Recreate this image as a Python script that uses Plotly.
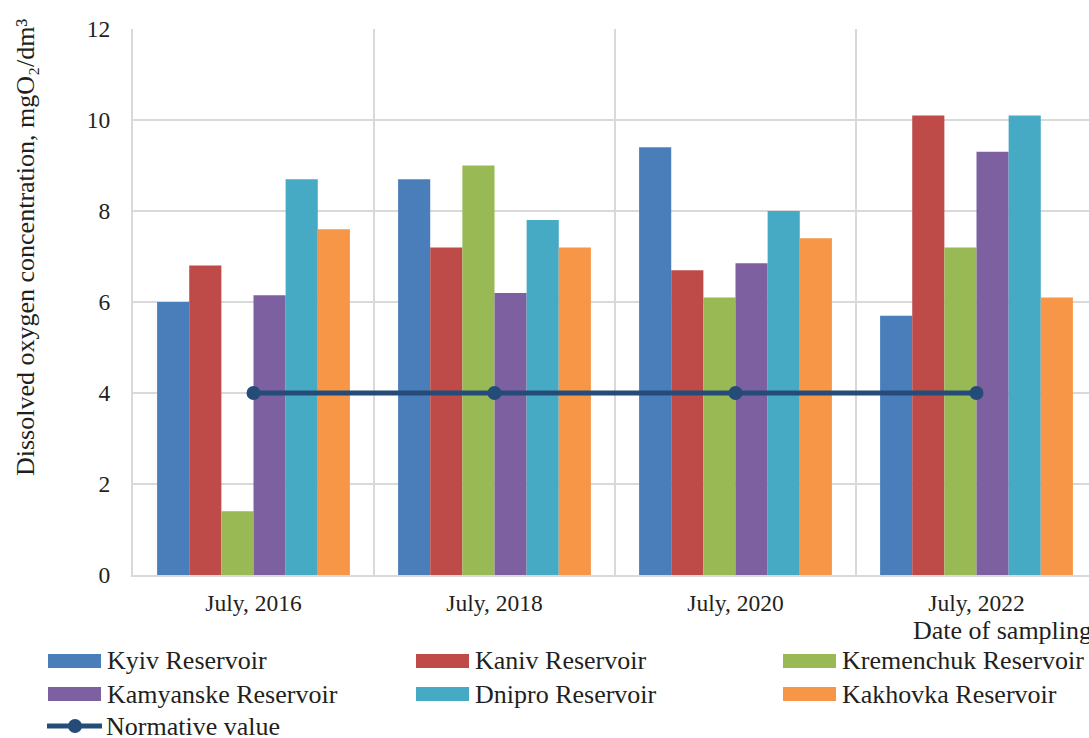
import plotly.graph_objects as go

# ---- data -------------------------------------------------------------
periods = ["July, 2016", "July, 2018", "July, 2020", "July, 2022"]

reservoirs = ["Kyiv Reservoir", "Kaniv Reservoir", "Kremenchuk Reservoir",
              "Kamyanske Reservoir", "Dnipro Reservoir", "Kakhovka Reservoir"]

kyiv = [6.0, 8.7, 9.4, 5.7]
kaniv = [6.8, 7.2, 6.7, 10.1]
kremenchuk = [1.4, 9.0, 6.1, 7.2]
kamyanske = [6.15, 6.2, 6.85, 9.3]
dnipro = [8.7, 7.8, 8.0, 10.1]
kakhovka = [7.6, 7.2, 7.4, 6.1]

normative = [4, 4, 4, 4]
normative_name = "Normative value"

colors = ["#4A7EBB", "#BE4B48", "#98B954", "#7D60A0", "#46AAC5", "#F79646"]
line_color = "#254C79"

y_title = "Dissolved oxygen concentration, mgO\u2082/dm\u00b3"
x_title = "Date of sampling"

# ---- layout geometry (pixels) ------------------------------------------
FIG_W, FIG_H = 1089, 738
M_L, M_R, M_T, M_B = 133, 0, 29, 163
PLOT_W = FIG_W - M_L - M_R
PLOT_H = FIG_H - M_T - M_B
FONT = "Liberation Serif, Times New Roman, serif"
TXT = "#231F20"
GRID = "#D9D9D9"


def px_x(p):
    return (p - M_L) / PLOT_W


def px_y(p):
    return (FIG_H - M_B - p) / PLOT_H


series = [kyiv, kaniv, kremenchuk, kamyanske, dnipro, kakhovka]
xpos = list(range(len(periods)))

fig = go.Figure()
for name, vals, col in zip(reservoirs, series, colors):
    fig.add_trace(go.Bar(x=xpos, y=vals, name=name, marker_color=col,
                         marker_line_width=0, showlegend=False))

fig.add_trace(go.Scatter(x=xpos, y=normative, name=normative_name,
                         mode="lines+markers",
                         line=dict(color=line_color, width=5),
                         marker=dict(color=line_color, size=14),
                         showlegend=False))

# ---- legend drawn below the plot ---------------------------------------
shapes = []
annotations = []
col_x = [48, 416, 783]
row_y = [661, 694, 726]
sw_w, sw_h = 53, 14
for i, (name, col) in enumerate(zip(reservoirs, colors)):
    cx = col_x[i % 3]
    cy = row_y[i // 3]
    shapes.append(dict(type="rect", xref="paper", yref="paper",
                       x0=px_x(cx), x1=px_x(cx + sw_w),
                       y0=px_y(cy - sw_h / 2), y1=px_y(cy + sw_h / 2),
                       fillcolor=col, line_width=0, layer="above"))
    annotations.append(dict(text=name, xref="paper", yref="paper",
                            x=px_x(cx + sw_w + 4), y=px_y(cy),
                            xanchor="left", yanchor="middle", showarrow=False,
                            font=dict(family=FONT, size=26, color=TXT)))

# normative line entry
cy = row_y[2]
shapes.append(dict(type="line", xref="paper", yref="paper",
                   x0=px_x(47), x1=px_x(102), y0=px_y(cy), y1=px_y(cy),
                   line=dict(color=line_color, width=5)))
shapes.append(dict(type="circle", xref="paper", yref="paper",
                   x0=px_x(75 - 7), x1=px_x(75 + 7),
                   y0=px_y(cy + 7), y1=px_y(cy - 7),
                   fillcolor=line_color, line_width=0))
annotations.append(dict(text=normative_name, xref="paper", yref="paper",
                        x=px_x(104), y=px_y(cy),
                        xanchor="left", yanchor="middle", showarrow=False,
                        font=dict(family=FONT, size=26, color=TXT)))

# axis titles
annotations.append(dict(text=y_title, xref="paper", yref="paper",
                        x=px_x(25), y=px_y(247), textangle=-90,
                        xanchor="center", yanchor="middle", showarrow=False,
                        font=dict(family=FONT, size=26, color=TXT)))
annotations.append(dict(text=x_title, xref="paper", yref="paper",
                        x=px_x(1094), y=px_y(630),
                        xanchor="right", yanchor="middle", showarrow=False,
                        font=dict(family=FONT, size=26, color=TXT)))

fig.update_layout(
    width=FIG_W, height=FIG_H, autosize=False,
    margin=dict(l=M_L, r=M_R, t=M_T, b=M_B, pad=0),
    paper_bgcolor="white", plot_bgcolor="white",
    barmode="group", bargap=0.2, bargroupgap=0,
    font=dict(family=FONT, size=23.5, color=TXT),
    shapes=shapes, annotations=annotations,
    xaxis=dict(range=[-0.5, -0.5 + PLOT_W / 241.0],
               tickmode="array", tickvals=xpos, ticktext=periods,
               showgrid=False, zeroline=False,
               showline=True, linecolor=GRID, linewidth=2,
               ticks="outside", ticklen=6, tickcolor="rgba(0,0,0,0)",
               minor=dict(tickmode="array", tickvals=[0.5, 1.5, 2.5],
                          showgrid=True, gridcolor=GRID, gridwidth=1.5,
                          ticks="")),
    yaxis=dict(range=[0, 12], dtick=2, tick0=0,
               showgrid=True, gridcolor=GRID, gridwidth=1.5,
               zeroline=False, showline=True, linecolor=GRID, linewidth=2,
               ticks="outside", ticklen=16, tickcolor="rgba(0,0,0,0)"),
)

fig.write_html("out.html")
